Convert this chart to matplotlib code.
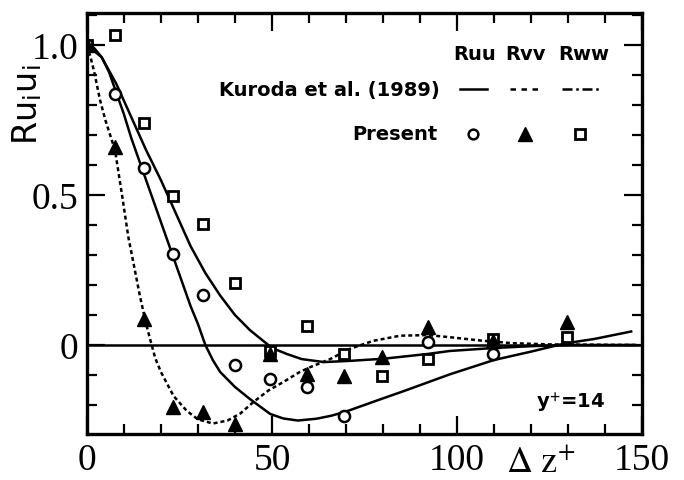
import numpy as np
import matplotlib
matplotlib.use("Agg")
import matplotlib.pyplot as plt
from matplotlib.ticker import MultipleLocator, FixedLocator, FixedFormatter

# --- data (y+ = 14) ---
# Kuroda et al. (1989) curves
kur_uu_x = [0, 2, 4, 6, 8, 10, 12, 14, 16, 18, 20, 22, 24, 26, 28, 30, 32, 34, 36, 40, 44,
            49.5, 53, 57, 62, 66, 70, 75, 80, 86, 92, 98, 104, 110, 120, 129, 137, 147]
kur_uu_y = [1.0, 0.99, 0.96, 0.91, 0.84, 0.77, 0.69, 0.62, 0.55, 0.48, 0.41, 0.34, 0.27,
            0.20, 0.13, 0.07, 0.0, -0.05, -0.09, -0.14, -0.18, -0.23, -0.245, -0.252,
            -0.246, -0.236, -0.222, -0.20, -0.178, -0.152, -0.125, -0.098, -0.074,
            -0.05, -0.022, 0.005, 0.02, 0.045]

kur_vv_x = [0, 1, 2, 3.5, 5, 7.6, 9.5, 11.2, 12.8, 14.3, 16, 17.5, 18.5, 20, 23.4, 27, 30,
            34, 38, 41.5, 45, 49, 53, 57.5, 60.3, 65.7, 71, 77.4, 84.6, 92.2, 98, 107,
            115, 125, 148]
kur_vv_y = [1.0, 0.96, 0.91, 0.82, 0.75, 0.65, 0.5, 0.36, 0.26, 0.165, 0.07, 0.0, -0.045,
            -0.09, -0.17, -0.22, -0.248, -0.262, -0.252, -0.228, -0.19, -0.152, -0.124,
            -0.09, -0.074, -0.047, -0.013, 0.014, 0.031, 0.033, 0.026, 0.014, 0.006,
            0.002, 0.0]

kur_ww_x = [0, 4, 8, 12, 16, 20, 24, 28, 32, 36, 40, 44, 47, 50, 54, 58, 64, 71, 80, 92,
            98, 110, 120, 130, 148]
kur_ww_y = [1.0, 0.96, 0.87, 0.76, 0.65, 0.55, 0.44, 0.33, 0.24, 0.165, 0.10, 0.05, 0.02,
            -0.01, -0.03, -0.047, -0.057, -0.053, -0.046, -0.03, -0.02, -0.01, -0.004,
            0.0, 0.0]

# Present results
uu_x = [0, 7.6, 15.5, 23.3, 31.4, 40, 49.5, 59.4, 69.5, 92.2, 109.8]
uu_y = [1.0, 0.837, 0.589, 0.303, 0.167, -0.067, -0.113, -0.141, -0.238, 0.009, -0.03]

vv_x = [0, 7.6, 15.5, 23.3, 31.4, 40, 49.5, 59.4, 69.5, 79.6, 92.2, 109.8, 129.6]
vv_y = [1.0, 0.659, 0.087, -0.207, -0.223, -0.263, -0.03, -0.097, -0.102, -0.041,
        0.059, 0.014, 0.076]

ww_x = [0, 7.6, 15.5, 23.3, 31.4, 40, 49.5, 59.4, 69.5, 79.6, 92.2, 109.8, 129.6]
ww_y = [1.0, 1.035, 0.742, 0.498, 0.403, 0.207, -0.019, 0.064, -0.03, -0.102, -0.047,
        0.02, 0.026]

x_ticks = [0, 50, 100, 150]
x_labels = ['0', '50', '100', '150']
y_ticks = [0, 0.5, 1.0]
y_labels = ['0', '0.5', '1.0']

plt.rcParams['mathtext.fontset'] = 'stix'

fig = plt.figure(figsize=(6.84, 4.81), dpi=100)
ax = fig.add_axes([0.127, 0.0956, 0.812, 0.875])

lw = 1.8
ax.axhline(0, color='black', lw=1.8)
ax.plot(kur_uu_x, kur_uu_y, color='black', lw=lw)
ax.plot(kur_ww_x, kur_ww_y, color='black', lw=lw)
ax.plot(kur_vv_x, kur_vv_y, color='black', lw=lw, linestyle=(0, (1.6, 1.2)))

ax.plot(uu_x, uu_y, 'o', ms=8, mfc='white', mec='black', mew=1.8, ls='none')
ax.plot(ww_x, ww_y, 's', ms=7.5, mfc='white', mec='black', mew=2.0, ls='none')
ax.plot(vv_x, vv_y, '^', ms=10, color='black', ls='none')

ax.set_xlim(0, 150)
ax.set_ylim(-0.297, 1.107)

ax.xaxis.set_major_locator(FixedLocator(x_ticks))
ax.xaxis.set_major_formatter(FixedFormatter(x_labels))
ax.xaxis.set_minor_locator(MultipleLocator(10))
ax.yaxis.set_major_locator(FixedLocator(y_ticks))
ax.yaxis.set_major_formatter(FixedFormatter(y_labels))
ax.yaxis.set_minor_locator(MultipleLocator(0.1))

ax.tick_params(which='both', direction='in', top=True, right=True, width=1.6)
ax.tick_params(which='major', length=13, pad=6)
ax.tick_params(which='minor', length=7)
for lab in ax.get_xticklabels() + ax.get_yticklabels():
    lab.set_fontfamily('Liberation Serif')
    lab.set_fontsize(27)
for sp in ax.spines.values():
    sp.set_linewidth(2.4)

# axis labels
fig.text(0.041, 0.782, r'Ru$_\mathregular{i}$u$_\mathregular{i}$', rotation=90,
         ha='center', va='center', fontsize=24, family='DejaVu Sans')
fig.text(0.79, 0.003, r'$\Delta\ \mathrm{z}^{+}$', ha='center', va='bottom', fontsize=26)

# tabular legend
lf = dict(fontsize=14, fontweight='bold', family='DejaVu Sans', transform=ax.transAxes)
ax.text(0.699, 0.903, 'Ruu', ha='center', va='center', **lf)
ax.text(0.789, 0.903, 'Rvv', ha='center', va='center', **lf)
ax.text(0.894, 0.903, 'Rww', ha='center', va='center', **lf)
ax.text(0.636, 0.819, 'Kuroda et al. (1989)', ha='right', va='center', **lf)
ax.text(0.631, 0.713, 'Present', ha='right', va='center', **lf)
ax.plot([0.672, 0.721], [0.819, 0.819], color='black', lw=lw, transform=ax.transAxes)
ax.plot([0.762, 0.816], [0.819, 0.819], color='black', lw=lw, ls=(0, (2.2, 2.2)),
        transform=ax.transAxes)
ax.plot([0.856, 0.924], [0.819, 0.819], color='black', lw=lw, ls=(0, (4, 1.5, 1, 1.5)),
        transform=ax.transAxes)
ax.plot([0.695], [0.713], 'o', ms=7, mfc='white', mec='black', mew=1.8, transform=ax.transAxes)
ax.plot([0.789], [0.713], '^', ms=10, color='black', transform=ax.transAxes)
ax.plot([0.888], [0.713], 's', ms=7, mfc='white', mec='black', mew=2.0, transform=ax.transAxes)

ax.text(0.87, 0.076, r'y$^\mathbf{+}$=14', ha='center', va='center', **lf)

fig.savefig('out.png', dpi=100)
